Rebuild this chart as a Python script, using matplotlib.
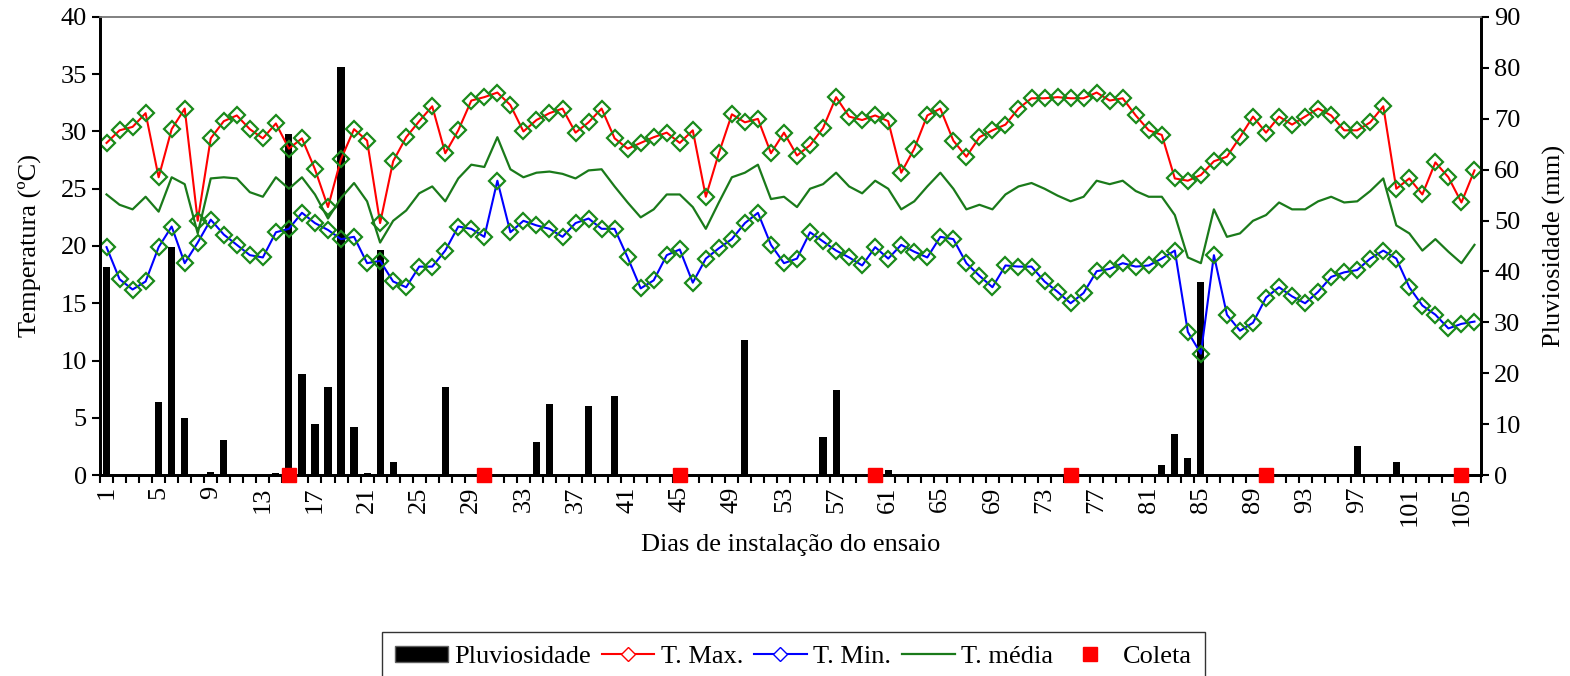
import matplotlib
matplotlib.use("Agg")

import matplotlib.pyplot as plt
from matplotlib.lines import Line2D
from matplotlib.patches import Patch

plt.rcParams["font.family"] = ["Liberation Serif", "DejaVu Serif"]

days = list(range(1, 107))

t_max = [29.0, 30.1, 30.4, 31.6, 26.0, 30.2, 32.0, 22.2, 29.4, 30.9,
         31.4, 30.2, 29.4, 30.7, 28.5, 29.4, 26.7, 23.4, 27.6, 30.2,
         29.2, 22.0, 27.4, 29.5, 30.9, 32.2, 28.1, 30.1, 32.7, 33.0,
         33.4, 32.3, 30.0, 31.0, 31.6, 32.0, 29.9, 30.8, 32.0, 29.4,
         28.5, 29.0, 29.5, 29.9, 29.0, 30.1, 24.3, 28.1, 31.5, 30.8,
         31.1, 28.1, 29.9, 27.9, 28.8, 30.3, 33.0, 31.3, 31.0, 31.4,
         30.9, 26.4, 28.5, 31.4, 32.0, 29.2, 27.8, 29.5, 30.1, 30.6,
         32.0, 32.9, 32.9, 33.0, 32.9, 32.9, 33.4, 32.7, 32.9, 31.4,
         30.1, 29.7, 25.9, 25.7, 26.2, 27.4, 27.8, 29.5, 31.3, 29.9,
         31.3, 30.6, 31.3, 32.0, 31.4, 30.1, 30.1, 30.8, 32.2, 25.0,
         25.9, 24.5, 27.3, 26.0, 23.8, 26.6]

t_min = [19.9, 17.1, 16.2, 16.9, 19.9, 21.7, 18.5, 20.3, 22.3, 21.0,
         20.1, 19.2, 19.0, 21.2, 21.5, 22.9, 22.0, 21.4, 20.6, 20.8,
         18.5, 18.7, 16.9, 16.4, 18.2, 18.2, 19.6, 21.7, 21.5, 20.8,
         25.7, 21.2, 22.2, 21.8, 21.5, 20.8, 22.0, 22.4, 21.5, 21.5,
         19.0, 16.3, 17.0, 19.2, 19.7, 16.8, 18.9, 19.8, 20.6, 22.0,
         22.9, 20.1, 18.5, 18.9, 21.2, 20.4, 19.6, 19.0, 18.3, 19.9,
         18.9, 20.1, 19.5, 19.0, 20.8, 20.6, 18.5, 17.4, 16.4, 18.3,
         18.2, 18.2, 16.9, 16.0, 15.0, 15.9, 17.8, 18.0, 18.5, 18.2,
         18.3, 18.9, 19.6, 12.5, 10.6, 19.2, 14.0, 12.6, 13.3, 15.5,
         16.4, 15.6, 15.0, 16.0, 17.3, 17.7, 17.9, 18.9, 19.6, 18.9,
         16.4, 14.8, 14.0, 12.8, 13.2, 13.4]

t_med = [24.5, 23.6, 23.2, 24.3, 23.0, 26.0, 25.4, 21.1, 25.9, 26.0,
         25.9, 24.7, 24.3, 26.0, 25.0, 26.0, 24.5, 22.4, 24.2, 25.5,
         23.9, 20.3, 22.2, 23.1, 24.6, 25.2, 23.9, 25.9, 27.1, 26.9,
         29.5, 26.7, 26.0, 26.4, 26.5, 26.3, 25.9, 26.6, 26.7, 25.2,
         23.8, 22.5, 23.2, 24.5, 24.5, 23.4, 21.5, 23.8, 26.0, 26.4,
         27.1, 24.1, 24.3, 23.4, 25.0, 25.4, 26.4, 25.2, 24.6, 25.7,
         25.0, 23.2, 23.9, 25.2, 26.4, 25.0, 23.2, 23.6, 23.2, 24.5,
         25.2, 25.5, 25.0, 24.4, 23.9, 24.3, 25.7, 25.4, 25.7, 24.8,
         24.3, 24.3, 22.7, 19.0, 18.5, 23.2, 20.8, 21.1, 22.2, 22.7,
         23.8, 23.2, 23.2, 23.9, 24.3, 23.8, 23.9, 24.8, 25.9, 21.8,
         21.1, 19.6, 20.6, 19.5, 18.5, 20.1]

rain_days = [1, 5, 6, 7, 9, 10, 14, 15, 16, 17, 18, 19, 20, 21, 22, 23, 27,
             34, 35, 38, 40, 41, 50, 56, 57, 61, 82, 83, 84, 85, 97, 100]
rain_mm = [40.8, 14.4, 44.8, 11.3, 0.65, 6.9, 0.3, 67.1, 19.9, 10.1, 17.2,
           80.1, 9.4, 0.3, 44.3, 2.6, 17.2, 6.55, 14.0, 13.6, 15.6, 0.26,
           26.6, 7.4, 16.8, 1.0, 1.9, 8.1, 3.4, 38.0, 5.8, 2.6]

coleta_days = [15, 30, 45, 60, 75, 90, 105]
coleta_vals = [0, 0, 0, 0, 0, 0, 0]

fig = plt.figure(figsize=(15.7, 6.76), dpi=100)
ax = fig.add_axes([0.0637, 0.2973, 0.8796, 0.6776])
ax2 = ax.twinx()

# rain bars behind the temperature lines
ax2.bar(rain_days, rain_mm, width=0.55, color="black", zorder=1)
ax.set_zorder(ax2.get_zorder() + 1)
ax.patch.set_visible(False)

mk = dict(marker="D", markersize=8, markerfacecolor="none",
          markeredgecolor="#1a8a1a", markeredgewidth=1.6)
ax.plot(days, t_max, color="red", lw=1.5, **mk)
ax.plot(days, t_min, color="blue", lw=1.5, **mk)
ax.plot(days, t_med, color="#1a7a1a", lw=1.6)
ax.plot(coleta_days, coleta_vals, ls="none", marker="s", markersize=10,
        color="red", clip_on=False, zorder=5)

ax.set_xlim(0.5, 106.5)
ax.set_ylim(0, 40)
ax2.set_ylim(0, 90)
ax.set_yticks(range(0, 41, 5))
ax2.set_yticks(range(0, 91, 10))

ax.set_xticks([d + 0.5 for d in range(0, 107)])
ax.set_xticklabels([])
ax.set_xticks(list(range(1, 107, 4)), minor=True)
ax.set_xticklabels([str(d) for d in range(1, 107, 4)], minor=True,
                   rotation=90, fontsize=19)
ax.tick_params(axis="x", which="major", direction="out", length=6, width=1.5)
ax.tick_params(axis="x", which="minor", length=0, pad=8)
ax.tick_params(axis="y", direction="out", length=6, width=1.5, labelsize=19)
ax2.tick_params(axis="y", direction="out", length=6, width=1.5, labelsize=19)

for a in (ax, ax2):
    a.spines["top"].set_color("#808080")
    a.spines["top"].set_linewidth(1.2)
    for s in ("left", "right", "bottom"):
        a.spines[s].set_linewidth(2)

ax.set_ylabel("Temperatura (ºC)", fontsize=19, labelpad=14)
ax2.set_ylabel("Pluviosidade (mm)", fontsize=19, labelpad=16)
ax.set_xlabel("Dias de instalação do ensaio", fontsize=19, labelpad=6)

handles = [
    Patch(facecolor="black", edgecolor="#606060"),
    Line2D([], [], color="red", lw=1.5, marker="D", markersize=7,
           markerfacecolor="white", markeredgecolor="red"),
    Line2D([], [], color="blue", lw=1.5, marker="D", markersize=7,
           markerfacecolor="white", markeredgecolor="blue"),
    Line2D([], [], color="#1a7a1a", lw=1.6),
    Line2D([], [], ls="none", marker="s", markersize=10, color="red"),
]
labels = ["Pluviosidade", "T. Max.", "T. Min.", "T. média", "Coleta"]
fig.legend(handles, labels, loc="lower center", bbox_to_anchor=(0.5055, -0.008),
           ncol=5, fontsize=19, frameon=True, fancybox=False, edgecolor="black",
           handlelength=2.0, handleheight=0.6, handletextpad=0.25,
           columnspacing=0.4, borderpad=0.5, borderaxespad=0.0)

fig.savefig("out.png", dpi=100)
